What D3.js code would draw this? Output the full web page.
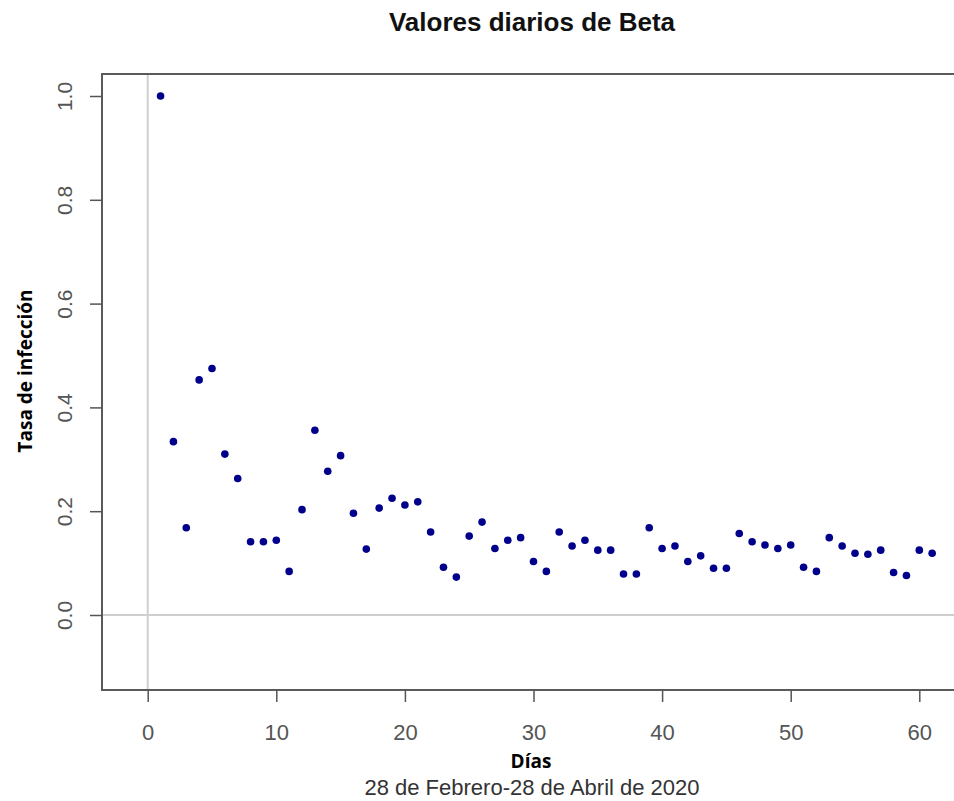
<!DOCTYPE html>
<html>
<head>
<meta charset="utf-8">
<script src="https://cdn.jsdelivr.net/npm/d3@7"></script>
<style>
  body { margin: 0; background: #fff; }
  svg { display: block; }
</style>
</head>
<body>
<div id="chart"></div>
<script>
// daily beta values
const days = [1, 2, 3, 4, 5, 6, 7, 8, 9, 10, 11, 12, 13, 14, 15, 16, 17, 18, 19, 20,
  21, 22, 23, 24, 25, 26, 27, 28, 29, 30, 31, 32, 33, 34, 35, 36, 37, 38, 39, 40,
  41, 42, 43, 44, 45, 46, 47, 48, 49, 50, 51, 52, 53, 54, 55, 56, 57, 58, 59, 60, 61];
const beta = [1.0, 0.334, 0.168, 0.453, 0.475, 0.310, 0.263, 0.141, 0.141, 0.144,
  0.084, 0.203, 0.356, 0.277, 0.307, 0.196, 0.127, 0.206, 0.225, 0.212,
  0.218, 0.160, 0.092, 0.073, 0.152, 0.179, 0.128, 0.144, 0.149, 0.103,
  0.084, 0.160, 0.133, 0.144, 0.125, 0.125, 0.079, 0.079, 0.168, 0.128,
  0.133, 0.103, 0.114, 0.090, 0.090, 0.157, 0.141, 0.135, 0.128, 0.135,
  0.092, 0.084, 0.149, 0.133, 0.119, 0.117, 0.125, 0.082, 0.076, 0.125, 0.119];
const xTicks = [0, 10, 20, 30, 40, 50, 60];
const yTicks = [0, 0.2, 0.4, 0.6, 0.8, 1.0];

const width = 954, height = 801;
const box = {left: 102, top: 74, right: 962, bottom: 690};

const svg = d3.select("#chart").append("svg")
  .attr("width", width)
  .attr("height", height);

const x = d3.scaleLinear().domain([0, 60]).range([147.7, 919.3]);
const y = d3.scaleLinear().domain([0, 1]).range([615, 96]);

// reference lines at zero
svg.append("line")
  .attr("x1", x(0)).attr("x2", x(0))
  .attr("y1", box.top).attr("y2", box.bottom)
  .attr("stroke", "#cfcfcf").attr("stroke-width", 2);
svg.append("line")
  .attr("x1", box.left).attr("x2", box.right)
  .attr("y1", y(0)).attr("y2", y(0))
  .attr("stroke", "#cfcfcf").attr("stroke-width", 2);

// plot frame
svg.append("rect")
  .attr("x", box.left).attr("y", box.top)
  .attr("width", box.right - box.left)
  .attr("height", box.bottom - box.top)
  .attr("fill", "none")
  .attr("stroke", "#5a5a5a")
  .attr("stroke-width", 2);

// x axis
const xAxis = svg.append("g")
  .attr("transform", `translate(0,${box.bottom})`)
  .call(d3.axisBottom(x).tickValues(xTicks).tickSize(12).tickFormat(d3.format("d")));
xAxis.select(".domain").remove();
xAxis.selectAll("line").attr("stroke", "#555").attr("stroke-width", 1.5);
xAxis.selectAll("text")
  .attr("y", 50).attr("dy", 0)
  .attr("fill", "#555")
  .style("font-family", "'Liberation Sans', Arial, sans-serif")
  .style("font-size", "22px");

// y axis, labels rotated like base R
const yAxis = svg.append("g")
  .attr("transform", `translate(${box.left},0)`)
  .call(d3.axisLeft(y).tickValues(yTicks).tickSize(12).tickFormat(d3.format(".1f")));
yAxis.select(".domain").remove();
yAxis.selectAll("line").attr("stroke", "#555").attr("stroke-width", 1.5);
yAxis.selectAll("text")
  .attr("x", 0).attr("dy", 0)
  .attr("transform", "translate(-30,0) rotate(-90)")
  .attr("text-anchor", "middle")
  .attr("fill", "#555")
  .style("font-family", "'Liberation Sans', Arial, sans-serif")
  .style("font-size", "21px");

// points
svg.append("g").selectAll("circle")
  .data(days)
  .join("circle")
  .attr("cx", d => x(d))
  .attr("cy", (d, i) => y(beta[i]))
  .attr("r", 3.8)
  .attr("fill", "#00008b");

// titles
svg.append("text")
  .attr("x", 532).attr("y", 31)
  .attr("text-anchor", "middle")
  .style("font-family", "'Liberation Sans', Arial, sans-serif")
  .style("font-weight", "bold")
  .style("font-size", "26px")
  .attr("fill", "#111")
  .text("Valores diarios de Beta");

svg.append("text")
  .attr("x", 531).attr("y", 768)
  .attr("text-anchor", "middle")
  .style("font-family", "'Open Sans', sans-serif")
  .style("font-weight", "bold")
  .style("font-size", "19px")
  .text("Días");

svg.append("text")
  .attr("x", 532).attr("y", 795)
  .attr("text-anchor", "middle")
  .style("font-family", "'Liberation Sans', Arial, sans-serif")
  .style("font-size", "22px")
  .attr("fill", "#333")
  .text("28 de Febrero-28 de Abril de 2020");

svg.append("text")
  .attr("transform", "translate(32,371) rotate(-90)")
  .attr("text-anchor", "middle")
  .style("font-family", "'Open Sans', sans-serif")
  .style("font-weight", "bold")
  .style("font-size", "19px")
  .text("Tasa de infección");
</script>
</body>
</html>
